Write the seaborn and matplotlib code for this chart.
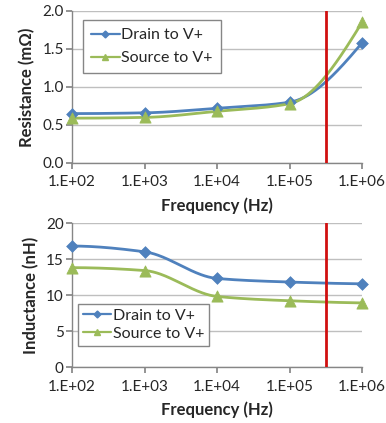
import numpy as np
import pandas as pd
import matplotlib
matplotlib.use('Agg')
import matplotlib.pyplot as plt
import matplotlib.ticker as mticker
from matplotlib.lines import Line2D
import seaborn as sns

freq = [1e2, 1e3, 1e4, 1e5, 1e6]
res_drain = [0.65, 0.66, 0.72, 0.80, 1.58]
res_source = [0.59, 0.60, 0.68, 0.78, 1.85]
ind_drain = [16.8, 16.0, 12.3, 11.8, 11.55]
ind_source = [13.8, 13.4, 9.8, 9.2, 8.9]
red_freq = 3.2e5

BLUE = '#4F81BD'
GREEN = '#9BBB59'
RED = '#D01010'

sns.set_theme(style='white')
plt.rcParams['font.family'] = ['Lato', 'DejaVu Sans']


def smooth(x, y, n=60):
    # monotone cubic (Fritsch-Carlson) through the points, in log10(x) space
    lx = np.log10(x)
    y = np.asarray(y, float)
    h = np.diff(lx)
    d = np.diff(y) / h
    m = np.zeros_like(y)
    for k in range(1, len(y) - 1):
        if d[k-1] * d[k] > 0:
            w1, w2 = 2*h[k] + h[k-1], h[k] + 2*h[k-1]
            m[k] = (w1 + w2) / (w1/d[k-1] + w2/d[k])
    for k, (a, b, hh0, hh1) in ((0, (d[0], d[1], h[0], h[1])),
                                (-1, (d[-1], d[-2], h[-1], h[-2]))):
        e = ((2*hh0 + hh1)*a - hh0*b) / (hh0 + hh1)
        if np.sign(e) != np.sign(a):
            e = 0.0
        elif np.sign(a) != np.sign(b) and abs(e) > abs(3*a):
            e = 3*a
        m[k] = e
    xs, ys = [], []
    for k in range(len(y) - 1):
        t = np.linspace(0, 1, n)
        h00 = 2*t**3 - 3*t**2 + 1
        h10 = t**3 - 2*t**2 + t
        h01 = -2*t**3 + 3*t**2
        h11 = t**3 - t**2
        xs.extend(lx[k] + t*h[k])
        ys.extend(h00*y[k] + h10*h[k]*m[k] + h01*y[k+1] + h11*h[k]*m[k+1])
    return 10**np.array(xs), np.array(ys)


def draw(ax, yd, ys, ylim, yticks, fmt, ylabel, legend_anchor, lspace, bpad):
    for vals, col, mk, ms in ((yd, BLUE, 'D', 6), (ys, GREEN, '^', 8)):
        sx, sy = smooth(freq, vals)
        sns.lineplot(x=sx, y=sy, color=col, lw=2, ax=ax, sort=False)
        sns.scatterplot(x=freq, y=vals, color=col, marker=mk, s=ms**2,
                        edgecolor=col, ax=ax, zorder=3, clip_on=False)
    ax.axvline(red_freq, ymin=0, ymax=1, color=RED, lw=2, zorder=4)
    ax.set_xscale('log')
    ax.set_xlim(1e2, 1e6)
    ax.set_ylim(*ylim)
    ax.set_xticks(freq)
    ax.xaxis.set_major_formatter(mticker.FuncFormatter(
        lambda v, _: f'1.E+{int(round(np.log10(v))):02d}'))
    ax.xaxis.set_minor_locator(mticker.NullLocator())
    ax.set_yticks(yticks)
    ax.yaxis.set_major_formatter(mticker.FormatStrFormatter(fmt))
    ax.grid(axis='y', color='#BFBFBF', lw=1)
    ax.set_axisbelow(True)
    for s in ('top', 'right'):
        ax.spines[s].set_visible(False)
    for s in ('left', 'bottom'):
        ax.spines[s].set_color('#868686')
        ax.spines[s].set_linewidth(1)
    ax.tick_params(axis='x', which='major', direction='out', length=4,
                   color='#868686', labelsize=11, pad=5, bottom=True)
    ax.tick_params(axis='y', which='major', direction='out', length=4,
                   color='#868686', labelsize=11, pad=2, left=True)
    ax.set_xlabel('Frequency (Hz)', fontsize=12, fontweight='bold', labelpad=6)
    ax.set_ylabel(ylabel, fontsize=12, fontweight='bold', labelpad=5)
    handles = [Line2D([], [], color=BLUE, lw=1.6, marker='D', ms=3.5),
               Line2D([], [], color=GREEN, lw=1.6, marker='^', ms=5)]
    ax.legend(handles, ['Drain to V+', 'Source to V+'], loc='upper left',
              bbox_to_anchor=legend_anchor, fontsize=11.5, fancybox=False,
              edgecolor='#868686', framealpha=1, handlelength=1.8,
              handletextpad=0.1, borderpad=bpad, labelspacing=lspace,
              borderaxespad=0)


fig = plt.figure(figsize=(3.86, 4.23), dpi=100)
ax1 = fig.add_axes([72/386, 1-163/423, 290/386, 152/423])
ax2 = fig.add_axes([72/386, 1-367/423, 290/386, 144/423])

draw(ax1, res_drain, res_source, (0, 2.0), [0, 0.5, 1.0, 1.5, 2.0], '%.1f',
     'Resistance (m\u03a9)', (0.038, 0.94), 0.55, 0.5)
draw(ax2, ind_drain, ind_source, (0, 20), [0, 5, 10, 15, 20], '%d',
     'Inductance (nH)', (0.02, 0.44), 0.25, 0.3)

fig.savefig('out.png', dpi=100)
